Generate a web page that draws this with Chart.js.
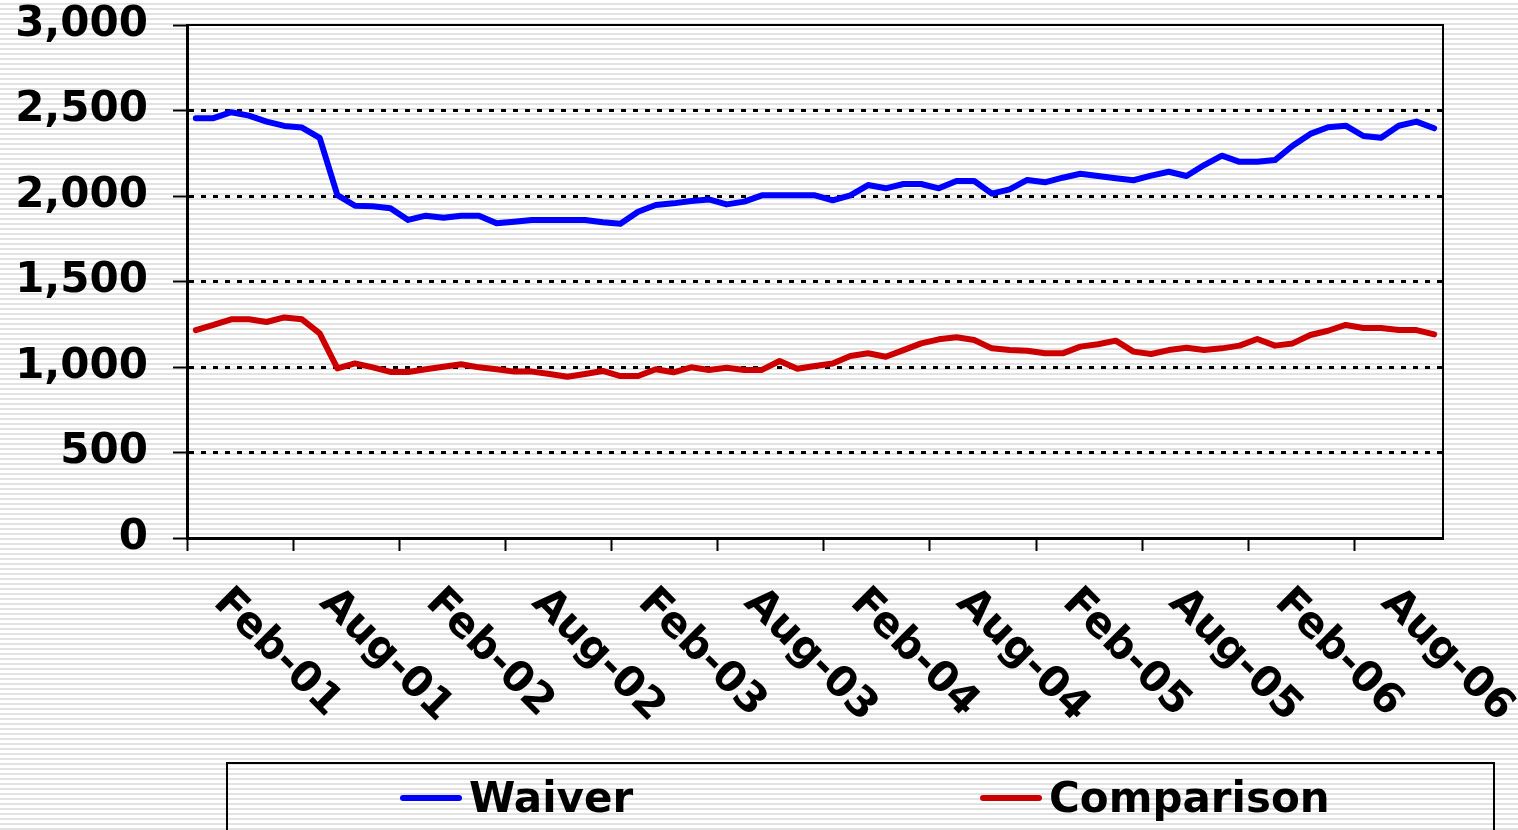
<!DOCTYPE html>
<html>
<head>
<meta charset="utf-8">
<script src="https://cdn.jsdelivr.net/npm/chart.js@4/dist/chart.umd.min.js"></script>
<style>
    html, body {
        margin: 0;
        padding: 0;
        width: 1518px;
        height: 830px;
        overflow: hidden;
        background: repeating-linear-gradient(to bottom, #ffffff 0px, #ffffff 3px, #e2e2e2 3px, #e2e2e2 5px);
    }
    #wrap { position: relative; width: 1518px; height: 830px; }
</style>
</head>
<body>
<div id="wrap"><canvas id="chart"></canvas></div>
<script>
    // Monthly categories, Feb-01 .. Dec-06
    const months = [
        'Feb-01', 'Mar-01', 'Apr-01', 'May-01', 'Jun-01', 'Jul-01', 'Aug-01', 'Sep-01', 'Oct-01', 'Nov-01', 'Dec-01',
        'Jan-02', 'Feb-02', 'Mar-02', 'Apr-02', 'May-02', 'Jun-02', 'Jul-02', 'Aug-02', 'Sep-02', 'Oct-02', 'Nov-02', 'Dec-02',
        'Jan-03', 'Feb-03', 'Mar-03', 'Apr-03', 'May-03', 'Jun-03', 'Jul-03', 'Aug-03', 'Sep-03', 'Oct-03', 'Nov-03', 'Dec-03',
        'Jan-04', 'Feb-04', 'Mar-04', 'Apr-04', 'May-04', 'Jun-04', 'Jul-04', 'Aug-04', 'Sep-04', 'Oct-04', 'Nov-04', 'Dec-04',
        'Jan-05', 'Feb-05', 'Mar-05', 'Apr-05', 'May-05', 'Jun-05', 'Jul-05', 'Aug-05', 'Sep-05', 'Oct-05', 'Nov-05', 'Dec-05',
        'Jan-06', 'Feb-06', 'Mar-06', 'Apr-06', 'May-06', 'Jun-06', 'Jul-06', 'Aug-06', 'Sep-06', 'Oct-06', 'Nov-06', 'Dec-06'
    ];

    const waiver = [
        2455, 2455, 2490, 2470, 2435, 2410, 2400, 2340, 2005, 1943, 1940,
        1928, 1860, 1885, 1873, 1885, 1885, 1840, 1850, 1860, 1860, 1860,
        1860, 1846, 1838, 1908, 1947, 1957, 1971, 1980, 1951, 1967, 2004,
        2004, 2004, 2004, 1975, 2004, 2064, 2045, 2070, 2070, 2045, 2088,
        2088, 2014, 2039, 2094, 2080, 2107, 2130, 2117, 2104, 2092, 2119,
        2142, 2117, 2181, 2236, 2200, 2200, 2210, 2294, 2363, 2402, 2411,
        2351, 2341, 2411, 2435, 2396
    ];

    const comparison = [
        1216, 1246, 1279, 1279, 1263, 1290, 1279, 1197, 992, 1021, 998,
        971, 971, 987, 1002, 1016, 998, 987, 973, 973, 959, 943,
        959, 977, 947, 947, 987, 969, 998, 983, 996, 983, 983,
        1035, 990, 1006, 1021, 1064, 1080, 1060, 1099, 1138, 1162, 1174,
        1158, 1109, 1099, 1095, 1080, 1080, 1119, 1133, 1154, 1090, 1076,
        1099, 1113, 1099, 1109, 1125, 1164, 1125, 1138, 1187, 1212, 1246,
        1228, 1228, 1216, 1216, 1191
    ];

    const seriesNames = ['Waiver', 'Comparison'];
    const seriesColors = ['#0000ff', '#cc0000'];

    const FONT = '"DejaVu Sans", Verdana, sans-serif';

    // Rotated month labels (every 6th category), drawn down-right like the original
    const xLabelPlugin = {
        id: 'xLabels',
        afterDraw(chart) {
            const { ctx, scales: { x } } = chart;
            ctx.save();
            ctx.font = 'bold 42px ' + FONT;
            ctx.fillStyle = '#000';
            ctx.textAlign = 'left';
            ctx.textBaseline = 'middle';
            months.forEach((m, i) => {
                if (i % 6 !== 0) return;
                const px = x.getPixelForValue(i);
                ctx.save();
                ctx.translate(px + 24, 596);
                ctx.rotate(Math.PI / 4);
                ctx.fillText(m, 0, 0);
                ctx.restore();
            });
            ctx.restore();
        }
    };

    // Top and right edges of the plot area
    const framePlugin = {
        id: 'frame',
        afterDatasetsDraw(chart) {
            const { ctx, chartArea: a } = chart;
            ctx.save();
            ctx.strokeStyle = '#000';
            ctx.lineWidth = 2;
            ctx.beginPath();
            ctx.moveTo(a.left, a.top);
            ctx.lineTo(a.right, a.top);
            ctx.lineTo(a.right, a.bottom);
            ctx.stroke();
            ctx.restore();
        }
    };

    // Boxed legend at the bottom
    const legendPlugin = {
        id: 'boxLegend',
        afterDraw(chart) {
            const { ctx } = chart;
            ctx.save();
            ctx.strokeStyle = '#000';
            ctx.lineWidth = 2;
            ctx.strokeRect(227, 763, 1267, 100);
            const items = [
                { lx: 403, tx: 469 },
                { lx: 983, tx: 1049 }
            ];
            ctx.font = 'bold 42px ' + FONT;
            ctx.textAlign = 'left';
            ctx.textBaseline = 'middle';
            chart.data.datasets.forEach((ds, i) => {
                const it = items[i];
                ctx.strokeStyle = ds.borderColor;
                ctx.lineWidth = 6;
                ctx.lineCap = 'round';
                ctx.beginPath();
                ctx.moveTo(it.lx, 798);
                ctx.lineTo(it.lx + 56, 798);
                ctx.stroke();
                ctx.fillStyle = '#000';
                ctx.fillText(ds.label, it.tx, 801);
            });
            ctx.restore();
        }
    };

    const ctx = document.getElementById('chart').getContext('2d');
    new Chart(ctx, {
        type: 'line',
        data: {
            labels: months,
            datasets: seriesNames.map((name, i) => ({
                label: name,
                data: i === 0 ? waiver : comparison,
                borderColor: seriesColors[i],
                backgroundColor: seriesColors[i],
                borderWidth: 6,
                borderCapStyle: 'round',
                borderJoinStyle: 'round',
                pointRadius: 0,
                tension: 0,
                fill: false
            }))
        },
        options: {
            responsive: true,
            maintainAspectRatio: false,
            animation: false,
            layout: { padding: { left: 0, right: 75, top: 25, bottom: 0 } },
            plugins: {
                legend: { display: false },
                tooltip: { enabled: false }
            },
            scales: {
                x: {
                    type: 'category',
                    offset: true,
                    grid: {
                        offset: true,
                        drawOnChartArea: false,
                        drawTicks: true,
                        tickLength: 13,
                        tickWidth: 2,
                        tickColor: c => (c.index !== undefined && c.index % 6 === 0) ? '#000' : 'rgba(0,0,0,0)',
                        color: 'rgba(0,0,0,0)'
                    },
                    border: { display: true, color: '#000', width: 3 },
                    ticks: { display: false, autoSkip: false },
                    afterFit: s => { s.height = 292; s.paddingLeft = 0; s.paddingRight = 0; }
                },
                y: {
                    min: 0,
                    max: 3000,
                    grid: {
                        drawTicks: true,
                        tickLength: 14,
                        tickWidth: 2,
                        tickColor: '#000',
                        lineWidth: 3,
                        color: c => (c.tick && c.tick.value > 0 && c.tick.value < 3000) ? '#000' : 'rgba(0,0,0,0)'
                    },
                    border: { display: true, color: '#000', width: 3, dash: [5, 7] },
                    ticks: {
                        stepSize: 500,
                        padding: 25,
                        color: '#000',
                        font: { family: FONT, size: 42, weight: 'bold' },
                        callback: v => v.toLocaleString('en-US')
                    },
                    afterFit: s => { s.width = 187; s.paddingTop = 0; s.paddingBottom = 0; }
                }
            }
        },
        plugins: [xLabelPlugin, framePlugin, legendPlugin]
    });
</script>
</body>
</html>
